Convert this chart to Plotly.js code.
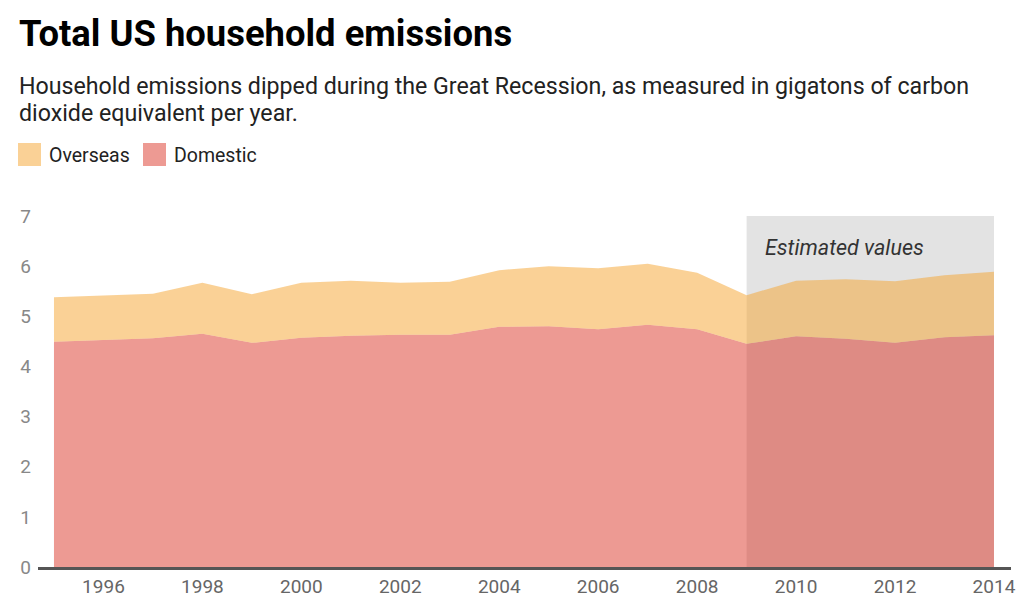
<!DOCTYPE html>
<html>
<head>
<meta charset="utf-8">
<script src="https://cdn.plot.ly/plotly-3.0.1.min.js"></script>
<style>
html,body{margin:0;padding:0;background:#fff;}
#chart{width:1024px;height:613px;}
</style>
</head>
<body>
<div id="chart"></div>
<script>
// ---- data ----
var years = [1995,1996,1997,1998,1999,2000,2001,2002,2003,2004,2005,2006,2007,2008,2009,2010,2011,2012,2013,2014];
var domestic = [4.49,4.52,4.56,4.65,4.47,4.57,4.61,4.63,4.63,4.79,4.80,4.74,4.83,4.74,4.45,4.60,4.55,4.47,4.58,4.62];
var totals   = [5.38,5.41,5.45,5.67,5.44,5.67,5.71,5.67,5.69,5.92,6.00,5.96,6.05,5.87,5.42,5.71,5.74,5.70,5.82,5.89];
var overseas = totals.map(function(t,i){ return +(t - domestic[i]).toFixed(2); });
var estimatedRange = [2009, 2014];
var xTickVals = [1996,1998,2000,2002,2004,2006,2008,2010,2012,2014];
var seriesNames = ["Overseas", "Domestic"];

// ---- layout helpers (pixel -> paper) ----
var W = 1024, H = 613, ML = 38, MR = 13, MT = 216, MB = 46;
var PW = W - ML - MR, PH = H - MT - MB;
function px(x){ return (x - ML) / PW; }
function py(y){ return (H - MB - y) / PH; }

var FONT = "Roboto, 'Open Sans', sans-serif";

var traces = [
  {
    x: years, y: domestic, name: seriesNames[1], type: "scatter", mode: "lines",
    stackgroup: "one", line: {width: 0}, fillcolor: "rgba(216,35,20,0.46)",
    hoverinfo: "skip"
  },
  {
    x: years, y: overseas, name: seriesNames[0], type: "scatter", mode: "lines",
    stackgroup: "one", line: {width: 0}, fillcolor: "rgba(245,163,45,0.5)",
    hoverinfo: "skip"
  }
];

var annotations = [
  {text: "<b>Total US household emissions</b>", x: px(17), y: py(33), xanchor: "left", yanchor: "middle",
   font: {family: FONT, size: 36.4, color: "#000"}},
  {text: "Household emissions dipped during the Great Recession, as measured in gigatons of carbon", x: px(17), y: py(86), xanchor: "left", yanchor: "middle",
   font: {family: FONT, size: 23.2, color: "#222"}},
  {text: "dioxide equivalent per year.", x: px(17), y: py(113), xanchor: "left", yanchor: "middle",
   font: {family: FONT, size: 23.2, color: "#222"}},
  {text: seriesNames[0], x: px(47), y: py(155), xanchor: "left", yanchor: "middle",
   font: {family: FONT, size: 19.5, color: "#222"}},
  {text: seriesNames[1], x: px(172), y: py(155), xanchor: "left", yanchor: "middle",
   font: {family: FONT, size: 19.5, color: "#222"}},
  {text: "<i>Estimated values</i>", x: px(763), y: py(247), xanchor: "left", yanchor: "middle",
   font: {family: FONT, size: 21.5, color: "#333"}}
];
annotations.forEach(function(a){ a.xref = "paper"; a.yref = "paper"; a.showarrow = false; });

var shapes = [
  {type: "rect", xref: "x", yref: "y", x0: estimatedRange[0], x1: estimatedRange[1], y0: 0, y1: 7,
   fillcolor: "#e3e3e3", line: {width: 0}, layer: "below"},
  {type: "rect", xref: "paper", yref: "paper", x0: px(18), x1: px(41), y0: py(143), y1: py(166),
   fillcolor: "#fad196", line: {width: 0}},
  {type: "rect", xref: "paper", yref: "paper", x0: px(143), x1: px(166), y0: py(143), y1: py(166),
   fillcolor: "#ed9a93", line: {width: 0}}
];

var layout = {
  width: W, height: H,
  margin: {l: ML, r: MR, t: MT, b: MB, pad: 0},
  paper_bgcolor: "#fff", plot_bgcolor: "#fff",
  showlegend: false,
  font: {family: FONT},
  xaxis: {
    range: [1994.677, 2014.344], tickvals: xTickVals, ticks: "",
    showgrid: false, zeroline: false, showline: true, linecolor: "#555", linewidth: 3,
    tickfont: {family: FONT, size: 19, color: "#666"}, ticklabelstandoff: 0, fixedrange: true
  },
  yaxis: {
    range: [0, 7], dtick: 1, ticks: "", showgrid: false, zeroline: false, showline: false,
    tickfont: {family: FONT, size: 19, color: "#888"}, ticklabelstandoff: 6, fixedrange: true
  },
  annotations: annotations,
  shapes: shapes
};

Plotly.newPlot("chart", traces, layout, {displayModeBar: false, staticPlot: true});
</script>
</body>
</html>
